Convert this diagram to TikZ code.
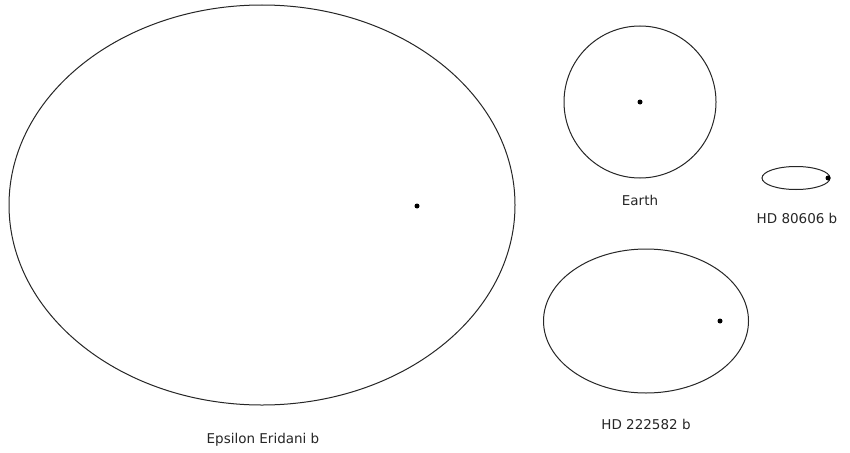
\documentclass[tikz,border=0pt]{standalone}
\usepackage{fontspec}
\setmainfont{DejaVu Sans}
\usetikzlibrary{shapes.geometric}
\tikzset{
  orbit/.style={draw=black!85, line width=1pt, ellipse, inner sep=0pt, outer sep=0pt},
  star/.style={fill=black, circle, inner sep=0pt, minimum size=5pt},
  lbl/.style={font=\fontsize{13.5}{15}\selectfont, anchor=base, inner sep=0pt, text=black!85}
}
\begin{document}
\begin{tikzpicture}[x=1pt, y=-1pt]
\useasboundingbox (0,0) rectangle (850,452);
\fill[white] (0,0) rectangle (850,452);
% Epsilon Eridani b
\node[orbit, minimum width=506pt, minimum height=400pt] (eps) at (262,205) {};
\node[star] (epsstar) at (417,206) {};
\node[lbl] (epslbl) at (263,443) {Epsilon Eridani b};
% Earth
\node[orbit, circle, minimum size=152pt] (earth) at (640,102) {};
\node[star] (earthstar) at (640,102) {};
\node[lbl] (earthlbl) at (640,205) {Earth};
% HD 80606 b
\node[orbit, minimum width=68pt, minimum height=23pt] (hd8) at (796,178) {};
\node[star] (hd8star) at (828,178) {};
\node[lbl] (hd8lbl) at (797,223) {HD 80606 b};
% HD 222582 b
\node[orbit, minimum width=205pt, minimum height=144pt] (hd2) at (646,321) {};
\node[star] (hd2star) at (720,321) {};
\node[lbl] (hd2lbl) at (646,429) {HD 222582 b};
\end{tikzpicture}
\end{document}
